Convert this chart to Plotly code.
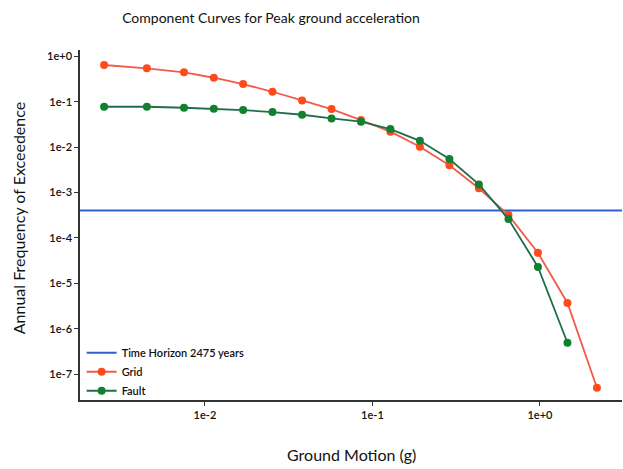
import plotly.graph_objects as go

# Ground motion levels (g)
iml_grid = [0.0025, 0.0045, 0.0075, 0.0113, 0.0169, 0.0253, 0.038, 0.057, 0.0854,
            0.128, 0.192, 0.288, 0.432, 0.649, 0.973, 1.46, 2.19]
afe_grid = [0.645, 0.544, 0.444, 0.338, 0.245, 0.166, 0.107, 0.069, 0.0395,
            0.0219, 0.0102, 0.0040, 0.00124, 0.000319, 4.7e-5, 3.7e-6, 5.0e-8]

iml_fault = [0.0025, 0.0045, 0.0075, 0.0113, 0.0169, 0.0253, 0.038, 0.057, 0.0854,
             0.128, 0.192, 0.288, 0.432, 0.649, 0.973, 1.46]
afe_fault = [0.0776, 0.0776, 0.0738, 0.070, 0.0656, 0.0593, 0.0517, 0.043, 0.0363,
             0.025, 0.0138, 0.00547, 0.00151, 0.00026, 2.3e-5, 4.9e-7]

time_horizon_years = 2475
horizon_x = [1e-3, 10]
horizon_afe = [1.0 / time_horizon_years] * 2

x_tickvals = [1e-2, 1e-1, 1e0]
x_ticktext = ["1e-2", "1e-1", "1e+0"]
y_tickvals = [1e0, 1e-1, 1e-2, 1e-3, 1e-4, 1e-5, 1e-6, 1e-7]
y_ticktext = ["1e+0", "1e-1", "1e-2", "1e-3", "1e-4", "1e-5", "1e-6", "1e-7"]

fig = go.Figure()
fig.add_trace(go.Scatter(x=horizon_x, y=horizon_afe, mode="lines",
                         name="Time Horizon 2475 years",
                         line=dict(color="#2f5fd0", width=2)))
fig.add_trace(go.Scatter(x=iml_grid, y=afe_grid, mode="lines+markers", name="Grid",
                         line=dict(color="#f25a4a", width=1.8),
                         marker=dict(color="#ff4a1c", size=8)))
fig.add_trace(go.Scatter(x=iml_fault, y=afe_fault, mode="lines+markers", name="Fault",
                         line=dict(color="#1f6e4a", width=1.8),
                         marker=dict(color="#118030", size=8)))

fig.update_layout(
    width=623, height=469,
    margin=dict(l=80, r=1, t=50, b=69, autoexpand=False),
    paper_bgcolor="white", plot_bgcolor="white",
    font=dict(family="Lato", color="#222"),
    title=dict(text="Component Curves for Peak ground acceleration",
               x=271 / 623, xref="container", xanchor="center",
               y=0.962, yanchor="middle",
               font=dict(size=14, family="Lato", color="#111")),
    showlegend=True,
    legend=dict(x=0.003, y=-0.015, xanchor="left", yanchor="bottom",
                bgcolor="rgba(255,255,255,0)",
                font=dict(size=11, family="Lato", color="#111", weight=600),
                tracegroupgap=0),
    annotations=[
        dict(text="Ground Motion (g)", xref="paper", yref="paper",
             x=0.5, y=-0.157, xanchor="center", yanchor="middle",
             showarrow=False, font=dict(size=16, family="Lato", color="#111")),
        dict(text="Annual Frequency of Exceedence", xref="paper", yref="paper",
             x=-0.114, y=0.52, xanchor="center", yanchor="middle", textangle=-90,
             showarrow=False, font=dict(size=16, family="Lato", color="#111")),
    ],
)
fig.update_xaxes(type="log", range=[-2.746, 0.49], showgrid=False, zeroline=False,
                 showline=True, linecolor="#333", linewidth=1.5,
                 ticks="outside", ticklen=4, tickcolor="#333", automargin=False,
                 tickvals=x_tickvals, ticktext=x_ticktext,
                 tickfont=dict(size=11, family="Lato", color="#111", weight=600))
fig.update_yaxes(type="log", range=[-7.57, 0.14], showgrid=False, zeroline=False,
                 showline=True, linecolor="#333", linewidth=1.5,
                 ticks="outside", ticklen=4, tickcolor="#333", automargin=False,
                 tickvals=y_tickvals, ticktext=y_ticktext,
                 tickfont=dict(size=11, family="Lato", color="#111", weight=600))

fig.write_html("out.html", config={"displayModeBar": False},
               post_script="document.body.style.margin='0';document.body.style.padding='0';")
